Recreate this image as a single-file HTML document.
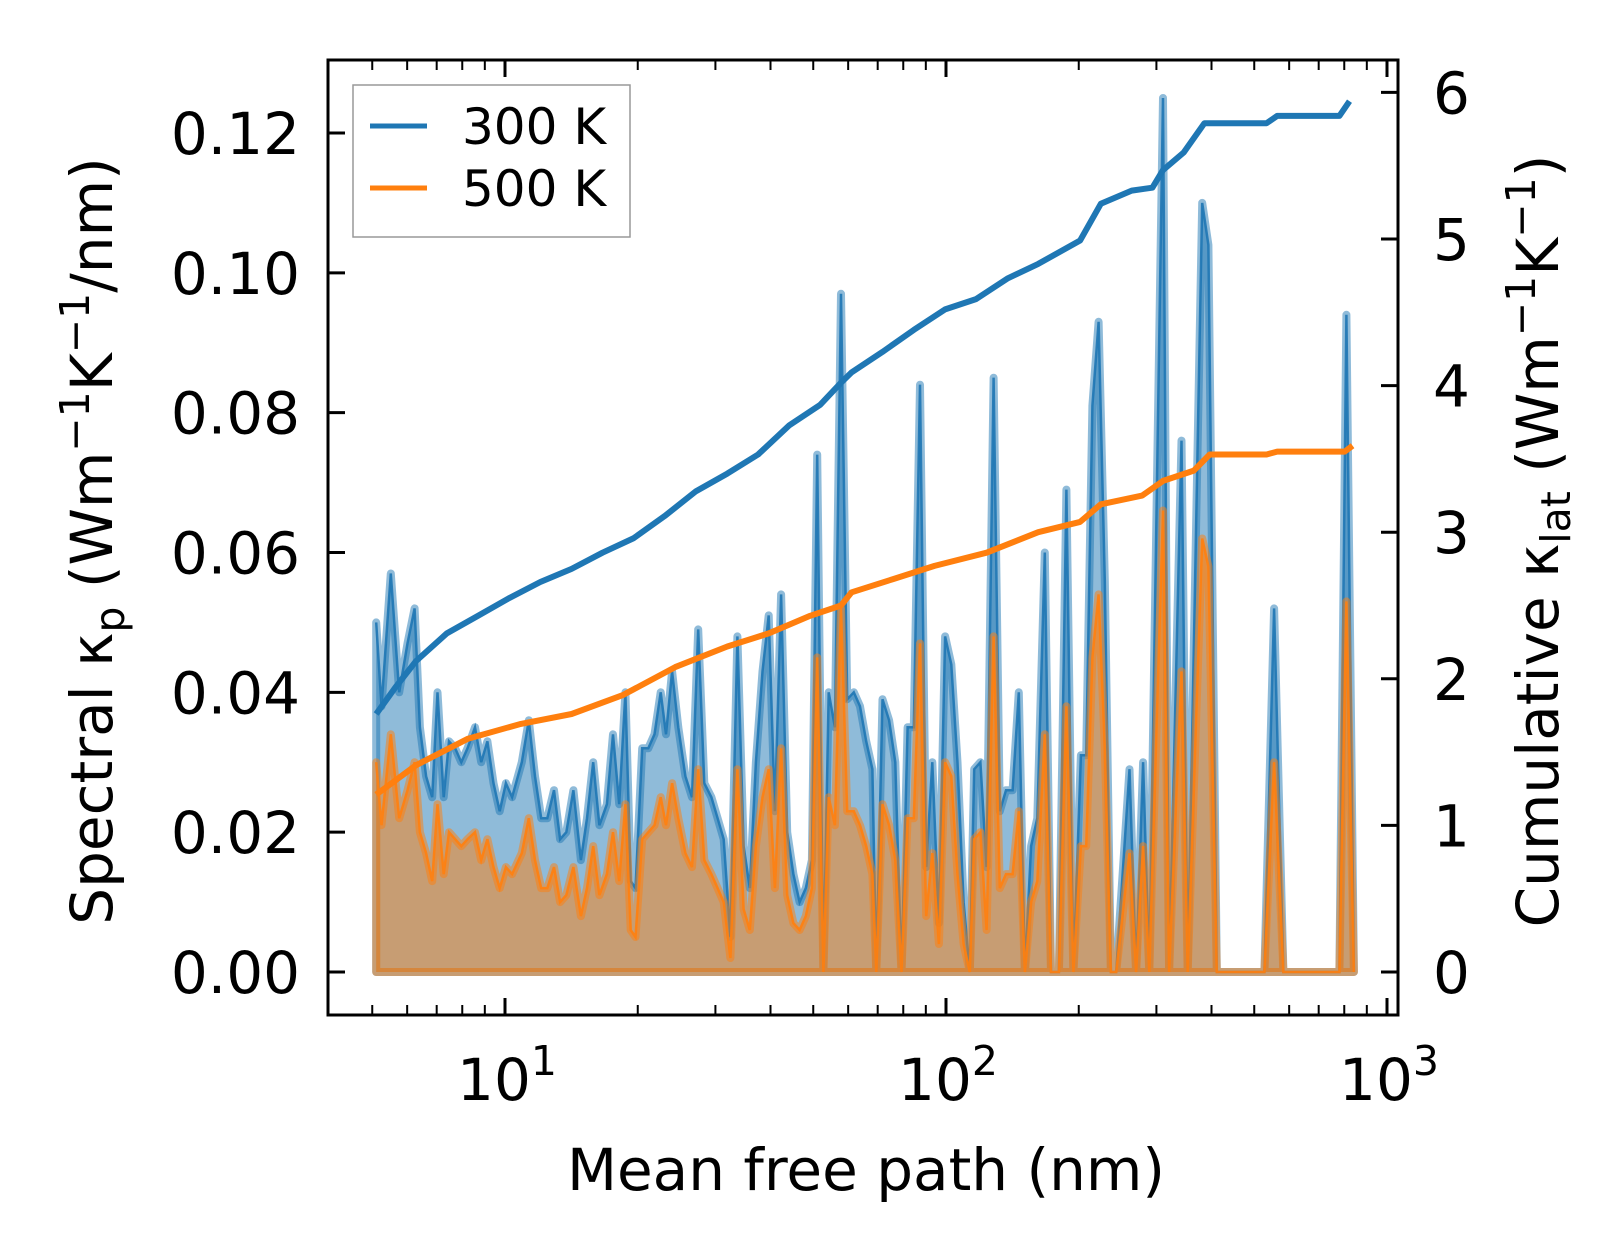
<!DOCTYPE html>
<html><head><meta charset="utf-8"><style>
html,body{margin:0;padding:0;background:#fff;}
svg{display:block;font-family:"DejaVu Sans","Liberation Sans",sans-serif;}
</style></head><body>
<svg id="chart" width="1623" height="1254" viewBox="0 0 1623 1254" xmlns="http://www.w3.org/2000/svg">
<g id="fills"></g>
<g id="lines"></g>
<g id="axes"></g>
<g id="legend">
<rect x="353" y="85" width="277" height="152" fill="#fff" fill-opacity="0.8" stroke="#999" stroke-width="1.5"/>
<line x1="370" y1="126" x2="427" y2="126" stroke="#1f77b4" stroke-width="5"/>
<text x="462" y="144" font-size="50">300 K</text>
<line x1="370" y1="188" x2="427" y2="188" stroke="#ff7f0e" stroke-width="5"/>
<text x="462" y="206" font-size="50">500 K</text>
</g>
<text transform="translate(112,541) rotate(-90)" text-anchor="middle" font-size="58">Spectral κ<tspan font-size="41" dy="12">p</tspan><tspan dy="-12"> (Wm</tspan><tspan font-size="41" dy="-23">−1</tspan><tspan dy="23">K</tspan><tspan font-size="41" dy="-23">−1</tspan><tspan dy="23">/nm)</tspan></text>
<text transform="translate(1558,541) rotate(-90)" text-anchor="middle" font-size="58">Cumulative κ<tspan font-size="41" dy="12">lat</tspan><tspan dy="-12"> (Wm</tspan><tspan font-size="41" dy="-23">−1</tspan><tspan dy="23">K</tspan><tspan font-size="41" dy="-23">−1</tspan><tspan dy="23">)</tspan></text>
<text x="866" y="1190" text-anchor="middle" font-size="58">Mean free path (nm)</text>
</svg>
<script>
// log10 of mean free path (nm)
const logMfp = [0.708,0.720,0.741,0.760,0.779,0.795,0.807,0.821,0.835,0.847,0.861,0.873,0.887,0.901,0.915,0.932,0.946,0.960,0.974,0.988,1.002,1.016,1.038,1.054,1.068,1.082,1.096,1.111,1.125,1.139,1.155,1.172,1.186,1.200,1.214,1.231,1.245,1.259,1.273,1.285,1.296,1.311,1.325,1.339,1.353,1.365,1.379,1.393,1.409,1.424,1.438,1.452,1.468,1.482,1.496,1.511,1.527,1.541,1.555,1.569,1.584,1.598,1.612,1.626,1.640,1.654,1.668,1.682,1.696,1.708,1.722,1.734,1.748,1.762,1.776,1.791,1.805,1.819,1.833,1.842,1.856,1.871,1.885,1.899,1.913,1.927,1.941,1.955,1.969,1.984,1.998,2.012,2.026,2.040,2.054,2.064,2.078,2.092,2.108,2.122,2.136,2.151,2.165,2.179,2.193,2.207,2.224,2.238,2.256,2.273,2.289,2.306,2.318,2.332,2.346,2.360,2.374,2.386,2.416,2.431,2.447,2.461,2.492,2.506,2.534,2.548,2.581,2.595,2.614,2.722,2.744,2.765,2.892,2.908,2.925];
const spectral300 = [0.050,0.038,0.057,0.040,0.047,0.052,0.035,0.028,0.025,0.040,0.025,0.033,0.032,0.030,0.032,0.035,0.030,0.033,0.027,0.023,0.027,0.025,0.030,0.036,0.028,0.022,0.022,0.026,0.019,0.020,0.026,0.016,0.022,0.030,0.021,0.024,0.034,0.024,0.040,0.013,0.012,0.032,0.032,0.034,0.040,0.034,0.043,0.035,0.028,0.025,0.049,0.027,0.025,0.022,0.019,0.005,0.048,0.018,0.012,0.030,0.043,0.051,0.023,0.054,0.020,0.014,0.010,0.012,0.016,0.074,0.000,0.040,0.035,0.097,0.039,0.040,0.038,0.033,0.029,0.000,0.039,0.036,0.030,0.000,0.035,0.035,0.084,0.015,0.030,0.007,0.048,0.044,0.030,0.010,0.000,0.029,0.030,0.015,0.085,0.023,0.026,0.026,0.040,0.000,0.018,0.022,0.060,0.000,0.000,0.069,0.000,0.031,0.031,0.081,0.093,0.056,0.000,0.000,0.029,0.000,0.030,0.000,0.125,0.000,0.076,0.000,0.110,0.104,0.000,0.000,0.052,0.000,0.000,0.094,0.000];
const spectral500 = [0.030,0.021,0.034,0.022,0.026,0.030,0.020,0.017,0.013,0.024,0.014,0.020,0.019,0.018,0.019,0.020,0.016,0.019,0.015,0.012,0.015,0.014,0.017,0.022,0.016,0.012,0.012,0.015,0.010,0.011,0.015,0.008,0.012,0.018,0.011,0.014,0.020,0.013,0.024,0.006,0.005,0.019,0.020,0.021,0.025,0.021,0.027,0.022,0.017,0.015,0.029,0.016,0.014,0.012,0.010,0.002,0.029,0.009,0.006,0.018,0.025,0.029,0.012,0.032,0.011,0.007,0.006,0.008,0.012,0.045,0.000,0.025,0.021,0.052,0.023,0.023,0.021,0.018,0.014,0.000,0.024,0.021,0.016,0.000,0.022,0.022,0.047,0.008,0.017,0.004,0.030,0.028,0.014,0.004,0.000,0.019,0.020,0.006,0.048,0.012,0.014,0.014,0.023,0.000,0.010,0.013,0.034,0.000,0.000,0.038,0.000,0.018,0.018,0.045,0.054,0.032,0.000,0.000,0.017,0.000,0.018,0.000,0.066,0.000,0.043,0.000,0.062,0.058,0.000,0.000,0.030,0.000,0.000,0.053,0.000];
const cumLog300 = [0.708,0.751,0.798,0.868,0.939,1.009,1.080,1.151,1.221,1.292,1.362,1.433,1.504,1.574,1.645,1.715,1.762,1.786,1.856,1.927,1.998,2.068,2.139,2.209,2.304,2.351,2.421,2.468,2.492,2.539,2.586,2.727,2.751,2.892,2.915];
const cum300 = [1.76,1.94,2.12,2.31,2.43,2.55,2.66,2.75,2.86,2.96,3.11,3.28,3.40,3.53,3.73,3.87,4.02,4.09,4.23,4.38,4.52,4.59,4.73,4.83,4.99,5.24,5.33,5.35,5.47,5.59,5.79,5.79,5.84,5.84,5.94];
const cumLog500 = [0.708,0.798,0.915,1.033,1.151,1.268,1.386,1.504,1.598,1.692,1.762,1.786,1.880,1.974,2.092,2.209,2.304,2.351,2.445,2.492,2.562,2.598,2.727,2.751,2.904,2.922];
const cum500 = [1.21,1.41,1.59,1.69,1.76,1.89,2.08,2.22,2.31,2.43,2.50,2.59,2.68,2.77,2.86,3.00,3.07,3.19,3.25,3.35,3.42,3.53,3.53,3.55,3.55,3.59];
const leftTicks = ["0.00","0.02","0.04","0.06","0.08","0.10","0.12"];
const rightTicks = ["0","1","2","3","4","5","6"];
const xDecades = [1,2,3];

const NS = "http://www.w3.org/2000/svg";
const AX = {l:328, r:1398, t:60, b:1015};
const xs = lg => 505 + (lg - 1) * 441;
const yL = v => 972 - v * 6991.7;
const yR = v => 972 - v * 146.6;
function mk(tag, attrs, parent){ const e=document.createElementNS(NS,tag); for(const k in attrs) e.setAttribute(k,attrs[k]); parent.appendChild(e); return e; }

const fills = document.getElementById('fills');
function fillSeries(vals, color, name){
  let pts = [[xs(logMfp[0]), yL(0)]];
  logMfp.forEach((l,i)=>pts.push([xs(l), yL(vals[i])]));
  pts.push([xs(logMfp[logMfp.length-1]), yL(0)]);
  const s = pts.map(p=>p[0].toFixed(1)+','+p[1].toFixed(1)).join(' ');
  const poly = mk('polygon',{points:s, fill:color, 'fill-opacity':0.5, stroke:color, 'stroke-opacity':0.5, 'stroke-width':8, 'stroke-linejoin':'round'}, fills);
  
  
  const line = mk('polyline',{points:logMfp.map((l,i)=>xs(l).toFixed(1)+','+yL(vals[i]).toFixed(1)).join(' '), fill:'none', stroke:color, 'stroke-width':2.5, 'stroke-opacity':0.9}, fills);
  
  
}
fillSeries(spectral300, '#1f77b4', 'spectral-300k');
fillSeries(spectral500, '#ff7f0e', 'spectral-500k');

const lines = document.getElementById('lines');
function cumLine(lx, vals, color, name){
  const pl = mk('polyline',{points:lx.map((l,i)=>xs(l).toFixed(1)+','+yR(vals[i]).toFixed(1)).join(' '), fill:'none', stroke:color, 'stroke-width':6, 'stroke-linejoin':'round'}, lines);
  
  
}
cumLine(cumLog300, cum300, '#1f77b4', 'cumulative-300k-line');
cumLine(cumLog500, cum500, '#ff7f0e', 'cumulative-500k-line');

const axes = document.getElementById('axes');
const frame = mk('rect',{x:AX.l,y:AX.t,width:AX.r-AX.l,height:AX.b-AX.t,fill:'none',stroke:'#000','stroke-width':3},axes);


leftTicks.forEach((t,i)=>{
  const v = parseFloat(t), y = yL(v);
  mk('line',{x1:AX.l,y1:y,x2:AX.l+17,y2:y,stroke:'#000','stroke-width':3},axes);
  const tx = mk('text',{x:300,y:y+21,'text-anchor':'end','font-size':58},axes);
  tx.textContent = t;
  
  
});
rightTicks.forEach((t,i)=>{
  const v = parseFloat(t), y = yR(v);
  mk('line',{x1:AX.r-17,y1:y,x2:AX.r,y2:y,stroke:'#000','stroke-width':3},axes);
  const tx = mk('text',{x:1433,y:y+21,'font-size':58},axes);
  tx.textContent = t;
  
  
});
for(let d=0; d<3; d++){
  for(let m=2; m<=9; m++){
    const lg = d + Math.log10(m);
    const x = xs(lg);
    if(x < AX.l+2 || x > AX.r-2) continue;
    mk('line',{x1:x,y1:AX.b,x2:x,y2:AX.b-10,stroke:'#000','stroke-width':2},axes);
    mk('line',{x1:x,y1:AX.t,x2:x,y2:AX.t+10,stroke:'#000','stroke-width':2},axes);
  }
}
xDecades.forEach(d=>{
  const x = xs(d);
  mk('line',{x1:x,y1:AX.b,x2:x,y2:AX.b-17,stroke:'#000','stroke-width':3},axes);
  mk('line',{x1:x,y1:AX.t,x2:x,y2:AX.t+17,stroke:'#000','stroke-width':3},axes);
  const tx = mk('text',{x:x+2,y:1100,'text-anchor':'middle','font-size':58},axes);
  
  
  const a = document.createElementNS(NS,'tspan'); a.textContent='10'; tx.appendChild(a);
  const b = document.createElementNS(NS,'tspan'); b.setAttribute('dy','-25'); b.setAttribute('font-size','41'); b.textContent=String(d); tx.appendChild(b);
});
</script>
</body></html>
